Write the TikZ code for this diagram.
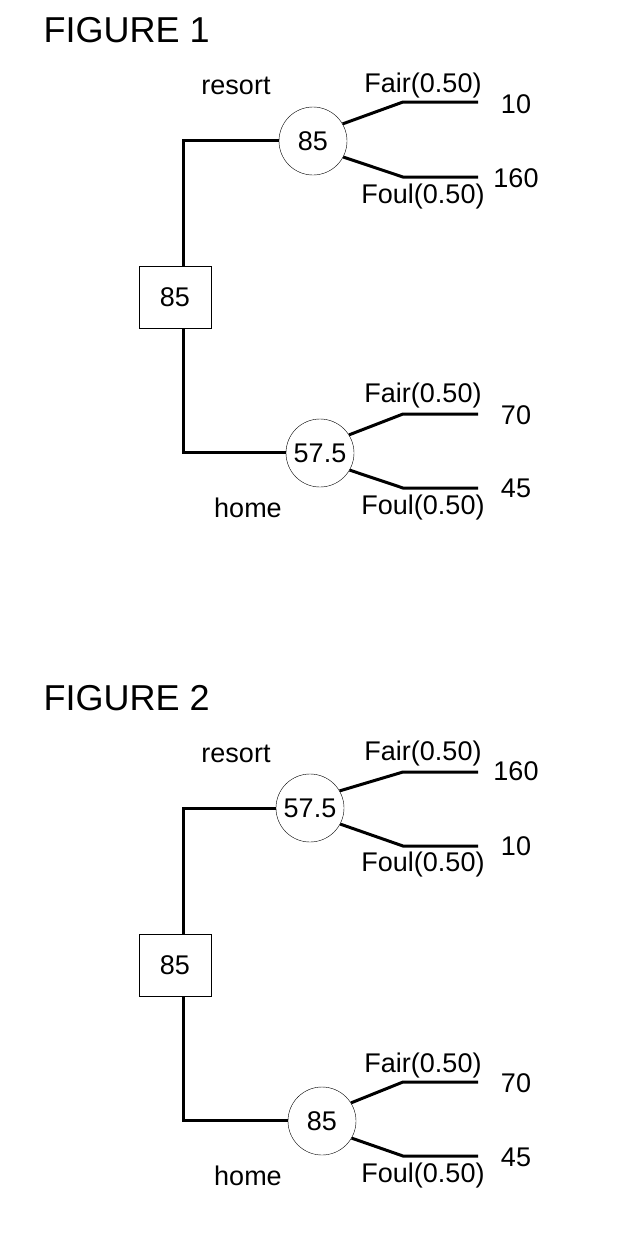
\documentclass[tikz,border=0pt]{standalone}
\usepackage{fontspec}
\setmainfont{Liberation Sans}
\usetikzlibrary{positioning}

\begin{document}
\begin{tikzpicture}[
			x=1pt, y=-1pt,
			font=\fontsize{27}{30}\selectfont,
			decision/.style={draw, thin, minimum width=72pt, minimum height=62pt},
			chance/.style={draw, thin, circle, minimum size=68pt, inner sep=0pt},
			branch/.style={line width=3pt},
			title/.style={font=\fontsize{36}{40}\selectfont, anchor=west}
			]
			\useasboundingbox (0,0) rectangle (632,1240);
			% Figure 1
			\node[title] (t1) at (40,30) {FIGURE 1};
			\node[decision] (d1) at (175,297) {85};
			\node[chance] (c1a) at (313,141) {85};
			\node[chance] (c1b) at (320,453) {57.5};
			\coordinate (k1) at (183,140);
			\coordinate (k2) at (183,452);
			\draw[branch] (d1.north -| k1) -- (k1) -- (c1a.west |- k1);
			\draw[branch] (d1.south -| k2) -- (k2) -- (c1b.west |- k2);
			\coordinate (f1a) at (403,102); \coordinate (e1a) at (478,102);
			\coordinate (f1b) at (403,177); \coordinate (e1b) at (478,177);
			\coordinate (f1c) at (403,414); \coordinate (e1c) at (478,414);
			\coordinate (f1d) at (403,488); \coordinate (e1d) at (478,488);
			\draw[branch] (c1a.30) -- (f1a) -- (e1a);
			\draw[branch] (c1a.-28) -- (f1b) -- (e1b);
			\draw[branch] (c1b.32) -- (f1c) -- (e1c);
			\draw[branch] (c1b.-30) -- (f1d) -- (e1d);
			\node at (236,86) {resort};
			\node at (248,508) {home};
			\node at (423,86) {Fair(0.50)};
			\node at (423,197) {Foul(0.50)};
			\node at (423,396) {Fair(0.50)};
			\node at (423,508) {Foul(0.50)};
			\node at (516,104) {10};
			\node at (516,178) {160};
			\node at (516,415) {70};
			\node at (516,488) {45};
			% Figure 2
			\begin{scope}[yshift=-668pt]
			\node[title] (t2) at (40,30) {FIGURE 2};
			\node[decision] (d2) at (175,297) {85};
			\node[chance] (c2a) at (310,140) {57.5};
			\node[chance] (c2b) at (322,453) {85};
			\coordinate (m1) at (183,140);
			\coordinate (m2) at (183,452);
			\draw[branch] (d2.north -| m1) -- (m1) -- (c2a.west |- m1);
			\draw[branch] (d2.south -| m2) -- (m2) -- (c2b.west |- m2);
			\coordinate (f2a) at (403,104); \coordinate (e2a) at (478,104);
			\coordinate (f2b) at (403,178); \coordinate (e2b) at (478,178);
			\coordinate (f2c) at (403,414); \coordinate (e2c) at (478,414);
			\coordinate (f2d) at (403,488); \coordinate (e2d) at (478,488);
			\draw[branch] (c2a.30) -- (f2a) -- (e2a);
			\draw[branch] (c2a.-28) -- (f2b) -- (e2b);
			\draw[branch] (c2b.32) -- (f2c) -- (e2c);
			\draw[branch] (c2b.-30) -- (f2d) -- (e2d);
			\node at (236,86) {resort};
			\node at (248,508) {home};
			\node at (423,86) {Fair(0.50)};
			\node at (423,197) {Foul(0.50)};
			\node at (423,397) {Fair(0.50)};
			\node at (423,507) {Foul(0.50)};
			\node at (516,103) {160};
			\node at (516,178) {10};
			\node at (516,415) {70};
			\node at (516,489) {45};
			\end{scope}
		\end{tikzpicture}
\end{document}
